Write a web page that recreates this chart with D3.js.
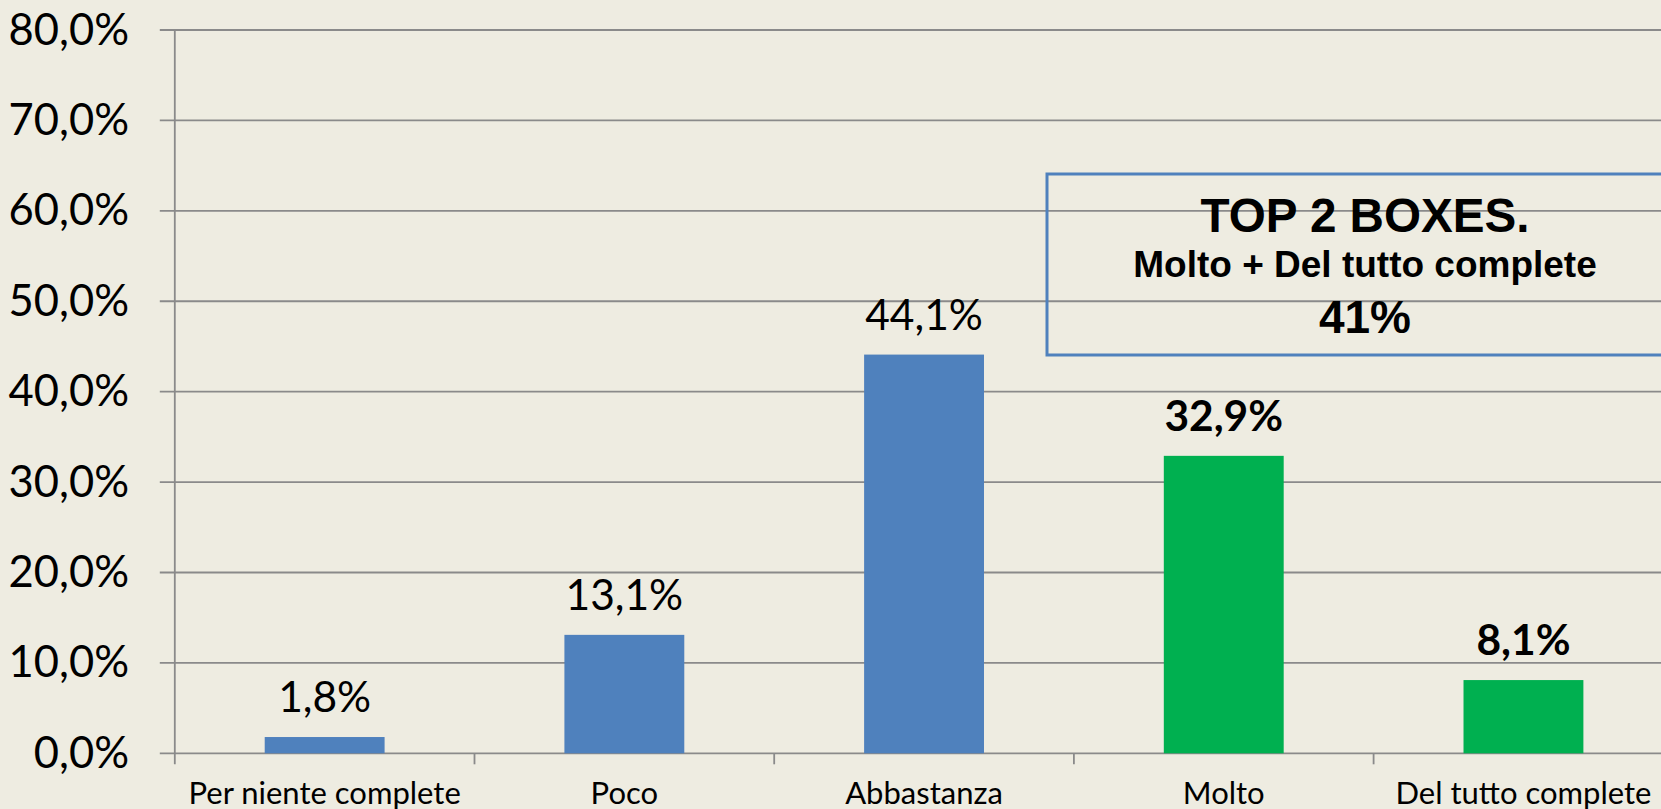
<!DOCTYPE html>
<html>
<head>
<meta charset="utf-8">
<script src="https://cdn.jsdelivr.net/npm/d3@7"></script>
<style>
  body { margin: 0; background: #EEECE1; }
  svg { display: block; }
  .lbl { font-family: Lato, "Open Sans", sans-serif; fill: #000; }
  .box { font-family: "Liberation Sans", Arial, sans-serif; font-weight: bold; fill: #000; }
</style>
</head>
<body>
<svg id="chart" width="1661" height="809"></svg>
<script>
// data
const categories = ["Per niente complete", "Poco", "Abbastanza", "Molto", "Del tutto complete"];
const values = [0.018, 0.131, 0.441, 0.329, 0.081];
const topTwo = [false, false, false, true, true];
const yTicks = [0, 0.1, 0.2, 0.3, 0.4, 0.5, 0.6, 0.7, 0.8];
const boxTitle = "TOP 2 BOXES.";
const boxSub = "Molto + Del tutto complete";
const boxValue = "41%";

const it = d3.formatLocale({ decimal: ",", thousands: ".", grouping: [3], currency: ["€", ""] });
const pct = it.format(".1%");

const svg = d3.select("#chart");
const W = 1661;
const left = 174.8, step = 299.7;

const x = d3.scaleBand()
  .domain(categories)
  .range([left, left + step * categories.length])
  .paddingInner(0.6)
  .paddingOuter(0.3);

const y = d3.scaleLinear()
  .domain([0, 0.8])
  .range([753.3, 30]);

// gridlines
svg.append("g").selectAll("line")
  .data(yTicks)
  .enter().append("line")
  .attr("x1", left - 15).attr("x2", W)
  .attr("y1", d => y(d)).attr("y2", d => y(d))
  .attr("stroke", "#8a8a8a").attr("stroke-width", 1.8);

// y axis line
svg.append("line")
  .attr("x1", left).attr("x2", left)
  .attr("y1", y(0.8)).attr("y2", y(0) + 11)
  .attr("stroke", "#8a8a8a").attr("stroke-width", 1.8);

// x axis ticks at band boundaries
const pad = (x.step() - x.bandwidth()) / 2;
svg.append("g").selectAll("line")
  .data(categories.slice(1))
  .enter().append("line")
  .attr("x1", d => x(d) - pad).attr("x2", d => x(d) - pad)
  .attr("y1", y(0)).attr("y2", y(0) + 11)
  .attr("stroke", "#8a8a8a").attr("stroke-width", 1.8);

// y tick labels
svg.append("g").selectAll("text")
  .data(yTicks)
  .enter().append("text")
  .attr("class", "lbl")
  .attr("x", 129)
  .attr("y", d => y(d) + 14.5)
  .attr("text-anchor", "end")
  .attr("font-size", 43.5)
  .text(d => pct(d));

// bars
svg.append("g").selectAll("rect")
  .data(values)
  .enter().append("rect")
  .attr("x", (d, i) => x(categories[i]))
  .attr("width", x.bandwidth())
  .attr("y", d => y(d))
  .attr("height", d => y(0) - y(d))
  .attr("fill", (d, i) => topTwo[i] ? "#00B050" : "#4F81BD");

// value labels
svg.append("g").selectAll("text")
  .data(values)
  .enter().append("text")
  .attr("class", "lbl")
  .attr("x", (d, i) => x(categories[i]) + x.bandwidth() / 2)
  .attr("y", d => y(d) - 25)
  .attr("text-anchor", "middle")
  .attr("font-size", 42.5)
  .attr("font-weight", (d, i) => topTwo[i] ? "bold" : "normal")
  .text(d => pct(d));

// category labels
svg.append("g").selectAll("text")
  .data(categories)
  .enter().append("text")
  .attr("class", "lbl")
  .attr("x", d => x(d) + x.bandwidth() / 2)
  .attr("y", 804)
  .attr("text-anchor", "middle")
  .attr("font-size", 31)
  .text(d => d);

// top 2 box annotation
const bx = 1047, by = 174, bw = 640, bh = 181;
svg.append("rect")
  .attr("x", bx).attr("y", by).attr("width", bw).attr("height", bh)
  .attr("fill", "none")
  .attr("stroke", "#4F81BD").attr("stroke-width", 3);

const cx = 1365;
svg.append("text").attr("class", "box")
  .attr("x", cx).attr("y", 231.5).attr("text-anchor", "middle")
  .attr("font-size", 48)
  .attr("textLength", 329).attr("lengthAdjust", "spacingAndGlyphs")
  .text(boxTitle);
svg.append("text").attr("class", "box")
  .attr("x", cx).attr("y", 276.5).attr("text-anchor", "middle")
  .attr("font-size", 37)
  .text(boxSub);
svg.append("text").attr("class", "box")
  .attr("x", cx).attr("y", 333).attr("text-anchor", "middle")
  .attr("font-size", 46)
  .text(boxValue);
</script>
</body>
</html>
